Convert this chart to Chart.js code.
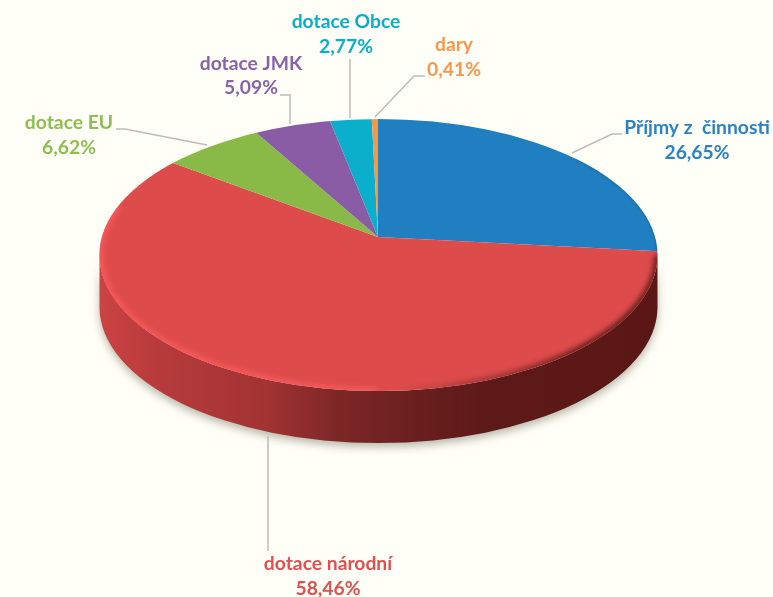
<!DOCTYPE html>
<html>
<head>
<meta charset="utf-8">
<title>Příjmy</title>
<script src="https://cdn.jsdelivr.net/npm/chart.js@4"></script>
<style>
  html, body { margin: 0; padding: 0; background: #fffff8; overflow: hidden; }
  canvas { display: block; }
</style>
</head>
<body>
<canvas id="pieChart" width="773" height="597"></canvas>
<script>
const categories = ['Příjmy z  činnosti', 'dotace národní', 'dotace EU', 'dotace JMK', 'dotace Obce', 'dary'];
const shares = [26.65, 58.46, 6.62, 5.09, 2.77, 0.41];
const sliceColors = ['#1f7fc1', '#dd4b4b', '#89ba48', '#8b5ca6', '#0baecb', '#f79646'];
const textColors = ['#2a83c6', '#e05050', '#8cbf4e', '#8a62a8', '#09afc9', '#f9964a'];

// label centres, two lines each
const labelX = [697, 328, 69, 251, 346, 454];
const labelY = [[128, 153], [564, 589], [123, 148], [64, 88], [22, 47], [45, 70]];
// leader lines from label to pie
const leaders = [
  [[622, 134], [612, 134], [572, 153]],
  [[268, 551], [268, 436]],
  [[116, 129], [125, 129], [207, 145]],
  [[280, 95], [290, 95], [290, 124]],
  [[350, 59], [350, 118]],
  [[425, 76], [414, 76], [375, 117]]
];

// tilted disc
const apexX = 378, apexY = 237;   // where the slices meet
const discX = 378.5, discY = 255, discRx = 279, discRy = 136;
const depth = 52;
const tilt = 0.49;
const zoom = 1.25;

function discPath(ctx) {
  ctx.beginPath();
  ctx.ellipse(discX, discY, discRx, discRy, 0, 0, Math.PI * 2);
}

function drawWall(ctx) {
  let g = ctx.createLinearGradient(discX - discRx, 0, discX + discRx, 0);
  g.addColorStop(0, '#cc4343');
  g.addColorStop(0.1, '#b83b3b');
  g.addColorStop(0.3, '#a23333');
  g.addColorStop(0.42, '#7f2727');
  g.addColorStop(0.55, '#6c2020');
  g.addColorStop(0.7, '#5c1917');
  g.addColorStop(1, '#5a1715');
  ctx.save();
  ctx.shadowColor = 'rgba(110,110,90,0.5)';
  ctx.shadowBlur = 9;
  ctx.shadowOffsetY = 4;
  ctx.fillStyle = g;
  ctx.beginPath();
  ctx.ellipse(discX, discY, discRx, discRy, 0, 0, Math.PI);
  ctx.lineTo(discX - discRx, discY + depth);
  ctx.ellipse(discX, discY + depth, discRx, discRy, 0, Math.PI, 0, true);
  ctx.closePath();
  ctx.fill();
  ctx.restore();
}

function drawRim(ctx) {
  ctx.save();
  discPath(ctx);
  ctx.clip();
  ctx.filter = 'blur(2.5px)';

  // light edge on the left and front
  let light = ctx.createLinearGradient(discX - discRx, 0, discX + 80, 0);
  light.addColorStop(0, 'rgba(250,88,88,0.9)');
  light.addColorStop(0.7, 'rgba(250,95,95,0.7)');
  light.addColorStop(1, 'rgba(250,95,95,0)');
  ctx.strokeStyle = light;
  ctx.lineWidth = 8;
  ctx.beginPath();
  ctx.ellipse(discX, discY, discRx, discRy, 0, Math.PI * 0.5, Math.PI * 1.12);
  ctx.stroke();

  // dark edge on the right
  let dark = ctx.createLinearGradient(discX + 20, 0, discX + 200, 0);
  dark.addColorStop(0, 'rgba(92,25,23,0)');
  dark.addColorStop(1, 'rgba(92,25,23,0.85)');
  ctx.strokeStyle = dark;
  ctx.lineWidth = 7;
  ctx.beginPath();
  ctx.ellipse(discX, discY, discRx, discRy, 0, 0, Math.PI * 0.5);
  ctx.stroke();

  ctx.filter = 'blur(1px)';
  ctx.strokeStyle = 'rgba(15,70,115,0.35)';
  ctx.lineWidth = 2;
  ctx.beginPath();
  ctx.ellipse(discX, discY, discRx, discRy, 0, -Math.PI * 0.25, -0.02);
  ctx.stroke();
  ctx.restore();
}

function drawLabels(ctx) {
  ctx.save();
  ctx.strokeStyle = '#bcbcb8';
  ctx.lineWidth = 1.5;
  leaders.forEach(pts => {
    ctx.beginPath();
    pts.forEach((p, i) => i ? ctx.lineTo(p[0], p[1]) : ctx.moveTo(p[0], p[1]));
    ctx.stroke();
  });

  ctx.font = 'bold 19.3px Lato';
  ctx.textAlign = 'center';
  ctx.textBaseline = 'middle';
  categories.forEach((name, i) => {
    ctx.fillStyle = textColors[i];
    ctx.fillText(name, labelX[i], labelY[i][0]);
    ctx.fillText(shares[i].toFixed(2).replace('.', ',') + '%', labelX[i], labelY[i][1]);
  });
  ctx.restore();
}

const tiltPlugin = {
  id: 'tiltPlugin',
  beforeDatasetsDraw(chart) {
    const ctx = chart.ctx;
    const arc = chart.getDatasetMeta(0).data[0];
    drawWall(ctx);
    ctx.save();
    discPath(ctx);
    ctx.clip();
    // lay the pie down: slices are drawn by chart.js under this transform
    ctx.translate(apexX, apexY);
    ctx.scale(discRx / arc.outerRadius * zoom, discRx / arc.outerRadius * zoom * tilt);
    ctx.translate(-arc.x, -arc.y);
  },
  afterDatasetsDraw(chart) {
    const ctx = chart.ctx;
    ctx.restore();
    drawRim(ctx);
    drawLabels(ctx);
  }
};

new Chart(document.getElementById('pieChart').getContext('2d'), {
  type: 'pie',
  data: {
    labels: categories,
    datasets: [{
      data: shares,
      backgroundColor: sliceColors,
      borderWidth: 0,
      clip: false
    }]
  },
  options: {
    responsive: false,
    animation: false,
    plugins: {
      legend: { display: false },
      tooltip: { enabled: false }
    }
  },
  plugins: [tiltPlugin]
});
</script>
</body>
</html>
